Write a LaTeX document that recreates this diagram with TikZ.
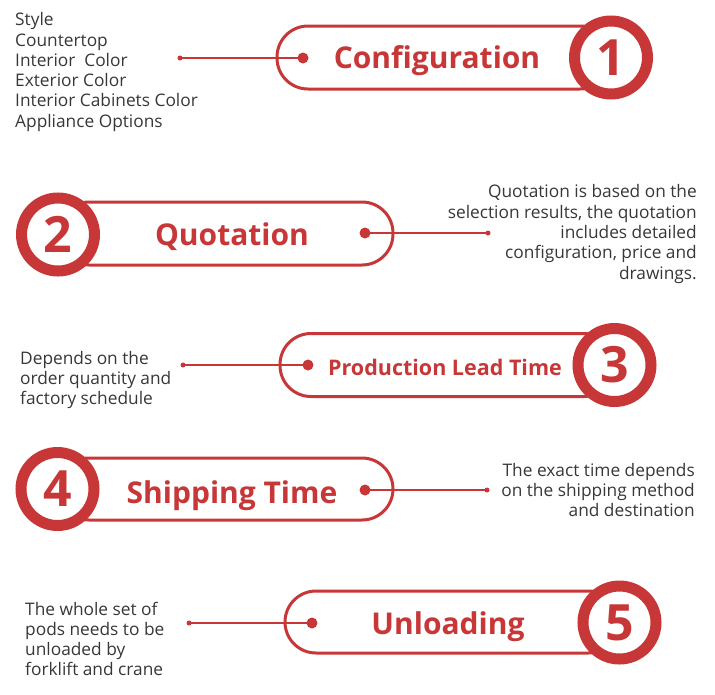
\documentclass[tikz,border=0pt]{standalone}
\usepackage{fontspec}
\setmainfont{Open Sans}
\usetikzlibrary{positioning}
\definecolor{podred}{RGB}{200,55,55}
\definecolor{notegray}{RGB}{55,55,55}

\begin{document}
\begin{tikzpicture}[x=1pt, y=-1pt,
    pill/.style={rectangle, draw=podred, line width=3pt, fill=white, rounded corners=31pt,
        minimum height=63pt, inner sep=0pt},
    numring/.style={circle, draw=podred, line width=11pt, fill=white, minimum size=73pt,
        inner sep=0pt, text=podred, font=\fontsize{50}{50}\selectfont\bfseries},
    title/.style={text=podred, inner sep=0pt, anchor=base, font=\fontsize{30}{30}\selectfont\bfseries},
    smalltitle/.style={text=podred, inner sep=0pt, anchor=base, font=\fontsize{21.5}{22}\selectfont\bfseries},
    bigdot/.style={circle, fill=podred, minimum size=11pt, inner sep=0pt},
    tinydot/.style={circle, fill=podred, minimum size=5pt, inner sep=0pt},
    note/.style={text=notegray, inner sep=0pt, font=\fontsize{17.3}{20.3}\selectfont},
    link/.style={draw=podred, line width=1.2pt}
    ]
    \useasboundingbox (0,0) rectangle (715,694);

    \node (Pill01) [pill, minimum width=334pt] at (444,57.5) {};
    \node (Num01) [numring] at (611,57.5) {1};
    \node (Title01) [title] at (437,68.5) {Configuration};
    \node (Dot01) [bigdot] at (303,58) {};
    \node (Tip01) [tinydot] at (180,58) {};
    \node (Note01) [note, anchor=west, align=left] at (15,72) {Style\\Countertop\\Interior\ \ Color\\Exterior Color\\Interior Cabinets Color\\Appliance Options};
    \draw [link] (Tip01.center) -- (Dot01.center);

    \node (Pill02) [pill, minimum width=335pt] at (225.5,233.5) {};
    \node (Num02) [numring] at (58,234.5) {2};
    \node (Title02) [title] at (232,245) {Quotation};
    \node (Dot02) [bigdot] at (365,233) {};
    \node (Tip02) [tinydot] at (488,233) {};
    \node (Note02) [note, anchor=east, align=right] at (697,234) {Quotation is based on the\\selection results, the quotation\\includes detailed\\configuration, price and\\drawings.};
    \draw [link] (Dot02.center) -- (Tip02.center);

    \node (Pill03) [pill, minimum width=334.5pt] at (447.25,365) {};
    \node (Num03) [numring] at (614.5,365) {3};
    \node (Title03) [smalltitle] at (445,375) {Production Lead Time};
    \node (Dot03) [bigdot] at (308,365) {};
    \node (Tip03) [tinydot] at (183,365) {};
    \node (Note03) [note, anchor=west, align=left] at (20,380) {Depends on the\\order quantity and\\factory schedule};
    \draw [link] (Tip03.center) -- (Dot03.center);

    \node (Pill04) [pill, minimum width=335pt, minimum height=62pt] at (225.5,489) {};
    \node (Num04) [numring] at (57.5,489) {4};
    \node (Title04) [title] at (232,503) {Shipping Time};
    \node (Dot04) [bigdot] at (365,490) {};
    \node (Tip04) [tinydot] at (487,490) {};
    \node (Note04) [note, anchor=east, align=right] at (695,490) {The exact time depends\\on the shipping method\\and destination};
    \draw [link] (Dot04.center) -- (Tip04.center);

    \node (Pill05) [pill, minimum width=334.5pt, minimum height=62pt] at (452.25,622) {};
    \node (Num05) [numring] at (619.5,622.5) {5};
    \node (Title05) [title] at (448,634) {Unloading};
    \node (Dot05) [bigdot] at (312,623) {};
    \node (Tip05) [tinydot] at (189,623) {};
    \node (Note05) [note, anchor=west, align=left] at (25,639) {The whole set of\\pods needs to be\\unloaded by\\forklift and crane};
    \draw [link] (Tip05.center) -- (Dot05.center);
\end{tikzpicture}
\end{document}
